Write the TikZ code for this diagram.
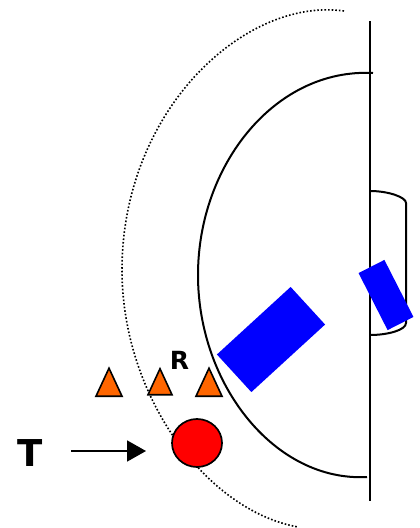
\documentclass[tikz,border=0pt]{standalone}
\usepackage{fontspec}
\setmainfont{DejaVu Sans}
\usetikzlibrary{arrows.meta, shapes.geometric}
\definecolor{conecolor}{HTML}{FF6600}

\begin{document}
\begin{tikzpicture}[
  x=1pt, y=-1pt,
  line/.style={line width=2pt},
  player/.style={rectangle, fill=blue, inner sep=0pt},
  cone/.style={isosceles triangle, isosceles triangle stretches, shape border rotate=90,
    draw, line width=1.6pt, fill=conecolor, inner sep=0pt, anchor=south,
    minimum width=26pt, minimum height=28pt},
  ball/.style={ellipse, draw, line width=1.7pt, fill=red, inner sep=0pt,
    minimum width=50pt, minimum height=48pt},
  label/.style={font=\bfseries, inner sep=0pt},
  edge/.style={-{Triangle[length=19pt, width=21pt]}, line width=1.8pt}
]
\useasboundingbox (0,0) rectangle (420,528);

\coordinate (top) at (370,21);
\coordinate (bottom) at (370,501);
\coordinate (areaA) at (373,73);
\coordinate (areaB) at (198,275);
\coordinate (areaC) at (367,477);
\coordinate (outerA) at (344,11);
\coordinate (outerB) at (122,270);
\coordinate (outerC) at (298,527);
\coordinate (goalA) at (370,191);
\coordinate (goalB) at (406,203);
\coordinate (goalC) at (406,323);
\coordinate (goalD) at (370,335);
\coordinate (from) at (71,451);
\coordinate (to) at (146,451);

\draw[dotted, line width=1.6pt] (outerA) .. controls (245,-3) and (122,110) .. (outerB)
  .. controls (122,395) and (205,510) .. (outerC);
\draw[line] (areaA) .. controls (275,68) and (198,165) .. (areaB)
  .. controls (198,385) and (275,482) .. (areaC);
\draw[line width=2.4pt] (top) -- (bottom);
\draw[line] (goalA) .. controls (388,191) and (406,197) .. (goalB) -- (goalC)
  .. controls (406,330) and (388,335) .. (goalD);

\node[player, minimum width=100pt, minimum height=51pt, rotate=42.5] (p1) at (271,339.5) {};
\node[player, minimum width=64pt, minimum height=29pt, rotate=-63] (p2) at (386,295) {};

\node[cone] (c1) at (109,397) {};
\node[cone, minimum width=24pt, minimum height=26pt] (c2) at (160,395.5) {};
\node[cone] (c3) at (209,397) {};
\node[ball] (b) at (197,443) {};
\node[label, font=\bfseries\fontsize{25}{25}\selectfont] (R) at (179.5,360) {R};
\node[label, font=\bfseries\fontsize{37}{37}\selectfont] (T) at (30,453.5) {T};

\draw[edge] (from) -- (to);
\end{tikzpicture}
\end{document}
